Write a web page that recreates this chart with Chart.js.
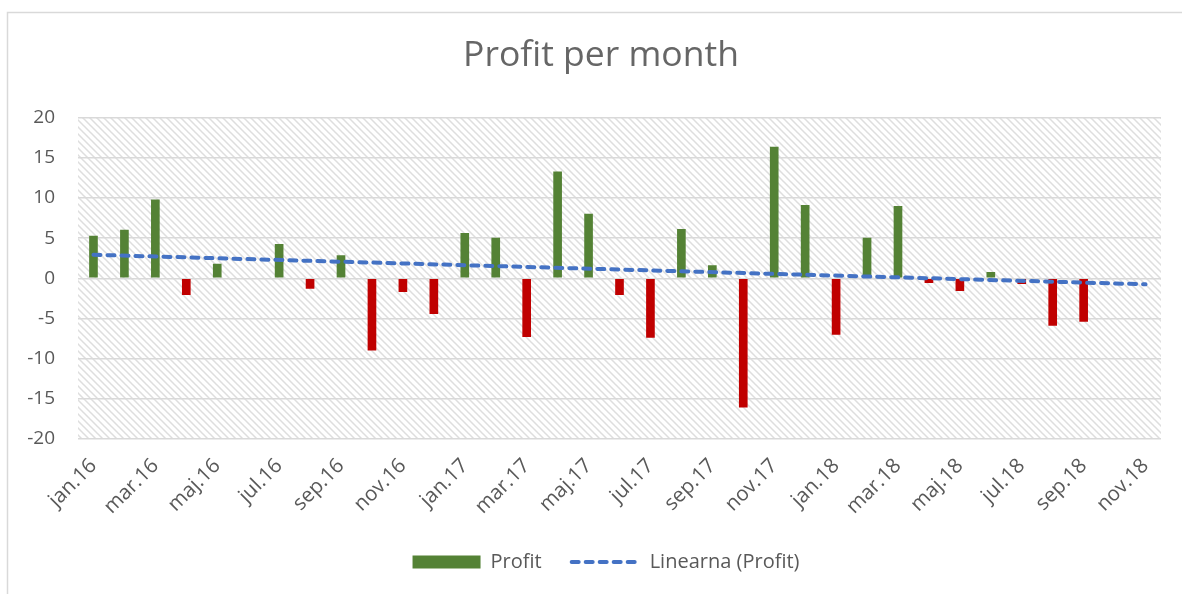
<!DOCTYPE html>
<html>
<head>
<meta charset="utf-8">
<script src="https://cdn.jsdelivr.net/npm/chart.js@4.4.1/dist/chart.umd.min.js"></script>
<style>
  html, body { margin: 0; padding: 0; background: #ffffff; }
  #wrap { width: 1182px; height: 594px; position: relative; }
</style>
</head>
<body>
<div id="wrap"><canvas id="c" width="1182" height="594"></canvas></div>
<script>
// ---- data ----
const months = [
  'jan.16','feb.16','mar.16','apr.16','maj.16','jun.16','jul.16','avg.16','sep.16','okt.16','nov.16','dec.16',
  'jan.17','feb.17','mar.17','apr.17','maj.17','jun.17','jul.17','avg.17','sep.17','okt.17','nov.17','dec.17',
  'jan.18','feb.18','mar.18','apr.18','maj.18','jun.18','jul.18','avg.18','sep.18','okt.18','nov.18'
];
const profit = [
  5.3, 6.05, 9.8, -2.07, 1.8, null, 4.26, -1.3, 2.86, -9.0, -1.7, -4.43,
  5.63, 5.05, -7.29, 13.29, 8.03, -2.07, -7.41, 6.13, 1.61, -16.07, 16.36, 9.11,
  -7.04, 5.05, 9.0, -0.58, -1.57, 0.79, -0.7, -5.92, -5.42, null, null
];
// trendline end values (first and last month)
const trendStart = 2.93;
const trendEnd = -0.75;
const trend = months.map((m, i) => i === 0 ? trendStart : (i === months.length - 1 ? trendEnd : null));
const yTicks = { min: -20, max: 20, step: 5 };
const title = 'Profit per month';
const seriesNames = ['Profit', 'Linearna (Profit)'];

const GREEN = '#548235', RED = '#C00000', BLUE = '#4472C4', TXT = '#595959', GRID = '#d9d9d9';
const FONT = '"Open Sans", Lato, sans-serif';

// hatch pattern
function makePattern(ctx) {
  const s = 7;
  const c = document.createElement('canvas');
  c.width = s; c.height = s;
  const g = c.getContext('2d');
  g.fillStyle = '#ffffff';
  g.fillRect(0, 0, s, s);
  g.strokeStyle = '#dedede';
  g.lineWidth = 1.5;
  g.beginPath();
  g.moveTo(-1, -1); g.lineTo(s + 1, s + 1);
  g.moveTo(s - 1, -1); g.lineTo(s + 1, 1);
  g.moveTo(-1, s - 1); g.lineTo(1, s + 1);
  g.stroke();
  return ctx.createPattern(c, 'repeat');
}

const bgPlugin = {
  id: 'bgPlugin',
  afterLayout(chart) {
    // centre legend and title as in the reference
    if (chart.legend) { chart.legend.left = 51; chart.legend.right = 1161; }
    if (chart.titleBlock) { chart.titleBlock.left = 41; chart.titleBlock.right = 1161; }
  },
  beforeDraw(chart) {
    const ctx = chart.ctx;
    const a = chart.chartArea;
    ctx.save();
    ctx.fillStyle = '#ffffff';
    ctx.fillRect(0, 0, chart.width, chart.height);
    ctx.strokeStyle = GRID;
    ctx.lineWidth = 1.5;
    ctx.strokeRect(7.5, 12.5, chart.width + 10, chart.height + 10);
    ctx.fillStyle = makePattern(ctx);
    ctx.fillRect(a.left, a.top, a.right - a.left, a.bottom - a.top);
    ctx.restore();
  }
};

const defaultLabels = Chart.defaults.plugins.legend.labels.generateLabels;

new Chart(document.getElementById('c'), {
  type: 'bar',
  data: {
    labels: months,
    datasets: [
      {
        label: seriesNames[0],
        data: profit,
        backgroundColor: profit.map(v => (v !== null && v < 0) ? RED : GREEN),
        borderWidth: 0,
        barPercentage: 0.28,
        categoryPercentage: 1.0,
        pointStyle: 'rect',
        order: 2
      },
      {
        type: 'line',
        label: seriesNames[1],
        data: trend,
        spanGaps: true,
        borderColor: BLUE,
        backgroundColor: BLUE,
        borderWidth: 4,
        borderDash: [7, 7],
        borderCapStyle: 'round',
        pointRadius: 0,
        pointHoverRadius: 0,
        pointStyle: 'line',
        fill: false,
        order: 1
      }
    ]
  },
  options: {
    responsive: false,
    animation: false,
    events: [],
    layout: { padding: { left: 0, right: 21, top: 0, bottom: 12 } },
    plugins: {
      title: {
        display: true,
        text: title,
        color: '#666666',
        font: { family: FONT, size: 35.5, weight: 'normal' },
        padding: { top: 35, bottom: 40 }
      },
      legend: {
        display: true,
        position: 'bottom',
        labels: {
          color: TXT,
          font: { family: FONT, size: 20 },
          usePointStyle: true,
          pointStyleWidth: 68,
          boxHeight: 13,
          padding: 30,
          sort: (a, b) => a.datasetIndex - b.datasetIndex,
          generateLabels(chart) {
            const items = defaultLabels(chart);
            items.forEach(it => {
              const ds = chart.data.datasets[it.datasetIndex];
              if (ds.type === 'line') {
                it.lineDash = ds.borderDash;
                it.lineCap = 'round';
                it.lineWidth = ds.borderWidth;
                it.strokeStyle = ds.borderColor;
              } else {
                it.fillStyle = GREEN;
                it.lineWidth = 0;
                it.strokeStyle = GREEN;
              }
            });
            return items;
          }
        }
      },
      tooltip: { enabled: false }
    },
    scales: {
      x: {
        grid: { display: false },
        border: { display: false },
        ticks: {
          color: TXT,
          font: { family: FONT, size: 20.5 },
          autoSkip: false,
          maxRotation: 45,
          minRotation: 45,
          padding: 7,
          callback: function (v, i) { return i % 2 === 0 ? this.getLabelForValue(v) : ''; }
        },
        afterFit(scale) { scale.height = 83; }
      },
      y: {
        min: yTicks.min,
        max: yTicks.max,
        grid: { color: GRID, lineWidth: 1.5, drawTicks: false },
        border: { display: false },
        ticks: {
          stepSize: yTicks.step,
          color: TXT,
          font: { family: FONT, size: 19 },
          padding: 23
        },
        afterFit(scale) { scale.width = 78; }
      }
    }
  },
  plugins: [bgPlugin]
});
</script>
</body>
</html>
